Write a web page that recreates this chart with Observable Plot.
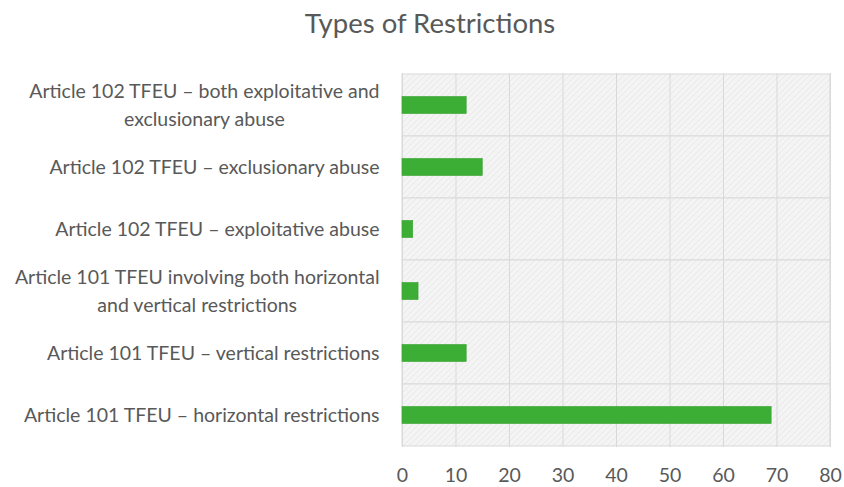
<!DOCTYPE html>
<html>
<head>
<meta charset="utf-8">
<script src="https://cdn.jsdelivr.net/npm/d3@7"></script>
<script src="https://cdn.jsdelivr.net/npm/@observablehq/plot@0.6"></script>
<style>
  html, body { margin: 0; padding: 0; background: #fff; }
  body { width: 844px; height: 487px; overflow: hidden; font-family: Lato, "Open Sans", sans-serif; }
  #title { height: 45px; line-height: 45px; text-align: center; font-size: 27.5px; color: #595959; padding-left: 16px; box-sizing: border-box; }
</style>
</head>
<body>
<div id="title">Types of Restrictions</div>
<div id="chart"></div>
<script>
const categories = [
  "Article 102 TFEU – both exploitative and\nexclusionary abuse",
  "Article 102 TFEU – exclusionary abuse",
  "Article 102 TFEU – exploitative abuse",
  "Article 101 TFEU involving both horizontal\nand vertical restrictions",
  "Article 101 TFEU – vertical restrictions",
  "Article 101 TFEU – horizontal restrictions"
];
const values = [12, 15, 2, 3, 12, 69];
const xTicks = [0, 10, 20, 30, 40, 50, 60, 70, 80];

const data = categories.map((c, i) => ({category: c, value: values[i]}));

const plot = Plot.plot({
  width: 844,
  height: 442,
  marginTop: 28,
  marginBottom: 40,
  marginLeft: 402,
  marginRight: 14,
  style: {fontFamily: "Lato, 'Open Sans', sans-serif", fontSize: "19.5px", color: "#595959", background: "#fff", overflow: "visible"},
  x: {domain: [0, 80], ticks: xTicks, label: null},
  y: {domain: categories, padding: 0, label: null},
  marks: [
    Plot.barX(categories, {y: d => d, x1: () => xTicks[0], x2: () => xTicks[xTicks.length - 1], fill: "url(#hatch)", stroke: "#d9d9d9", strokeWidth: 1}),
    Plot.gridX({ticks: xTicks, stroke: "#d9d9d9", strokeOpacity: 1, strokeWidth: 1}),
    Plot.barX(data, {y: "category", x: "value", fill: "#3dae35", stroke: "#36a030", strokeWidth: 0.6, insetTop: 22.5, insetBottom: 22.5}),
    Plot.axisX({ticks: xTicks, tickSize: 0, tickPadding: 21, fill: "#595959", fontSize: 19.5}),
    Plot.axisY({tickSize: 0, tickPadding: 23, dy: -2, fill: "#595959", fontSize: 19.5, lineHeight: 1.43, textOverflow: null, lineWidth: 100})
  ]
});

// hatch pattern for the plot area background
const svg = d3.select(plot);
const defs = svg.insert("defs", ":first-child");
const pat = defs.append("pattern")
  .attr("id", "hatch")
  .attr("patternUnits", "userSpaceOnUse")
  .attr("width", 6).attr("height", 6);
pat.append("rect").attr("width", 6).attr("height", 6).attr("fill", "#f4f4f4");
pat.append("path").attr("d", "M0,6 L6,0 M-1,1 L1,-1 M5,7 L7,5").attr("stroke", "#e8e8e8").attr("stroke-width", 1);

document.getElementById("chart").appendChild(plot);

// center multi-line y labels as a block (right edge at the axis)
svg.selectAll("g[aria-label='y-axis tick label'] text").each(function() {
  const tspans = d3.select(this).selectAll("tspan");
  if (tspans.size() > 1) {
    let w = 0;
    tspans.each(function() { w = Math.max(w, this.getComputedTextLength()); });
    d3.select(this).attr("text-anchor", "middle");
    tspans.attr("x", -w / 2);
  }
});
</script>
</body>
</html>
